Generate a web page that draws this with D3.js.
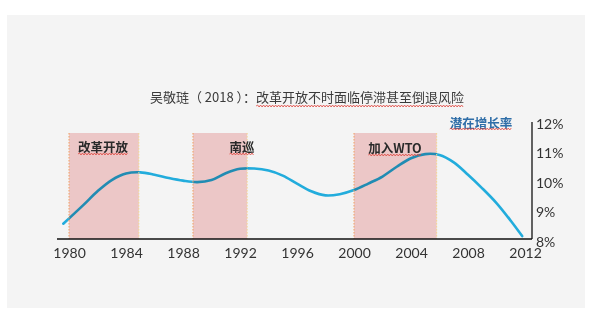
<!DOCTYPE html>
<html>
<head>
<meta charset="utf-8">
<script src="https://cdn.jsdelivr.net/npm/d3@7"></script>
<style>
  html, body { margin: 0; padding: 0; background: #ffffff; }
  svg { display: block; }
</style>
</head>
<body>
<svg id="chart" width="598" height="327"></svg>
<script>
// Potential growth rate series (year, %)
const years = [1979.6, 1981, 1982, 1983, 1984, 1985, 1986, 1987, 1988, 1989, 1990,
  1991, 1992, 1993, 1994, 1995, 1996, 1997, 1998, 1999, 2000, 2001, 2002, 2003,
  2004, 2005, 2006, 2007, 2008, 2009, 2010, 2011, 2011.8];
const growth = [8.62, 9.25, 9.72, 10.1, 10.32, 10.36, 10.28, 10.17, 10.08, 10.03, 10.1,
  10.33, 10.48, 10.49, 10.42, 10.25, 9.98, 9.72, 9.58, 9.62, 9.76, 9.98, 10.22, 10.55,
  10.84, 10.98, 10.95, 10.7, 10.28, 9.82, 9.32, 8.72, 8.2];

// Reform periods shaded on the chart
const periodNames = ["改革开放", "南巡", "加入WTO"];
const periodStart = [1980, 1988.7, 2000];
const periodEnd = [1984.9, 1992.5, 2005.8];

const xTicks = [1980, 1984, 1988, 1992, 1996, 2000, 2004, 2008, 2012];
const yTicks = [8, 9, 10, 11, 12];

const title = "吴敬琏（ 2018 ）：改革开放不时面临停滞甚至倒退风险";
const seriesName = "潜在增长率";

const svg = d3.select("#chart");

// background panel
svg.append("rect").attr("x", 7).attr("y", 15).attr("width", 578).attr("height", 293)
  .attr("fill", "#f4f4f4");

const x = d3.scaleLinear().domain([1980, 2012]).range([69, 525]);
const y = d3.scaleLinear().domain([8, 12]).range([242, 124]);

const bandTop = 133, axisY = 239, axisLeft = 57, axisRight = 532;

// wavy underline helper (spell-check squiggle)
function squiggle(x0, x1, yy) {
  let d = `M${x0},${yy}`;
  let up = true;
  for (let xx = x0 + 1.5; xx <= x1; xx += 1.5) {
    d += `L${xx},${yy + (up ? -1 : 1)}`;
    up = !up;
  }
  svg.append("path").attr("d", d).attr("fill", "none")
    .attr("stroke", "#e0443c").attr("stroke-width", 0.8);
}

// line
const line = d3.line().x((d, i) => x(years[i])).y(d => y(d)).curve(d3.curveCatmullRom.alpha(0.5));
svg.append("path").datum(growth).attr("d", line)
  .attr("fill", "none").attr("stroke", "#22acdc").attr("stroke-width", 2.6)
  .attr("stroke-linecap", "round");

// shaded bands (multiplied over the line)
const bands = svg.append("g");
periodNames.forEach((name, i) => {
  const x0 = x(periodStart[i]), x1 = x(periodEnd[i]);
  bands.append("rect").attr("x", x0).attr("y", bandTop).attr("width", x1 - x0)
    .attr("height", axisY - bandTop).attr("fill", "#f7d0d0")
    .style("mix-blend-mode", "multiply");
  bands.append("line").attr("x1", x0).attr("x2", x0).attr("y1", bandTop).attr("y2", axisY)
    .attr("stroke", "#f0a060").attr("stroke-width", 1).attr("stroke-dasharray", "1.5,1.5");
  bands.append("line").attr("x1", x1).attr("x2", x1).attr("y1", bandTop).attr("y2", axisY)
    .attr("stroke", "#f5d590").attr("stroke-width", 1).attr("stroke-dasharray", "1.5,1.5");
});

// band labels
const labelPos = [[103, 146], [242, 146], [395, 147]];
periodNames.forEach((name, i) => {
  const t = svg.append("text").attr("x", labelPos[i][0]).attr("y", labelPos[i][1])
    .attr("text-anchor", "middle").attr("dominant-baseline", "central")
    .attr("font-family", "'Noto Sans CJK SC', sans-serif").attr("font-weight", "bold")
    .attr("font-size", 12.5).attr("fill", "#2a2a2a").text(name);
  const w = t.node().getComputedTextLength();
  squiggle(labelPos[i][0] - w / 2, labelPos[i][0] + w / 2, labelPos[i][1] + 8);
});

// axes
const xAxis = d3.axisBottom(x).tickValues(xTicks).tickFormat(d3.format("d")).tickSize(0).tickPadding(9);
const gx = svg.append("g").attr("transform", `translate(0,${axisY})`).call(xAxis);
gx.select(".domain").remove();
gx.selectAll("text").attr("font-family", "Lato, 'Liberation Sans', sans-serif")
  .attr("font-size", 14).attr("fill", "#333");
svg.append("line").attr("x1", axisLeft).attr("x2", axisRight).attr("y1", axisY).attr("y2", axisY)
  .attr("stroke", "#111").attr("stroke-width", 1.3);

const yAxis = d3.axisRight(y).tickValues(yTicks).tickFormat(d => d + "%").tickSize(0).tickPadding(4);
const gy = svg.append("g").attr("transform", `translate(${axisRight},0)`).call(yAxis);
gy.select(".domain").remove();
gy.selectAll("text").attr("font-family", "Lato, 'Liberation Sans', sans-serif")
  .attr("font-size", 14).attr("fill", "#333");
svg.append("line").attr("x1", axisRight).attr("x2", axisRight).attr("y1", 122).attr("y2", axisY)
  .attr("stroke", "#111").attr("stroke-width", 1.3);

// series name
const sn = svg.append("text").attr("x", 481).attr("y", 122).attr("text-anchor", "middle")
  .attr("dominant-baseline", "central")
  .attr("font-family", "'Noto Sans CJK SC', sans-serif").attr("font-weight", "bold")
  .attr("font-size", 12.5).attr("fill", "#2f6ea8").text(seriesName);
const snw = sn.node().getComputedTextLength();
squiggle(481 - snw / 2, 481 + snw / 2, 129);

// title
const tt = svg.append("text").attr("x", 307).attr("y", 96).attr("text-anchor", "middle")
  .attr("dominant-baseline", "central")
  .attr("font-family", "'Noto Sans CJK SC', sans-serif")
  .attr("font-size", 13).attr("fill", "#3a3a3a").text(title);
const tb = tt.node().getBBox();
squiggle(tb.x + tb.width - 13 * 16, tb.x + tb.width, 106);
</script>
</body>
</html>
